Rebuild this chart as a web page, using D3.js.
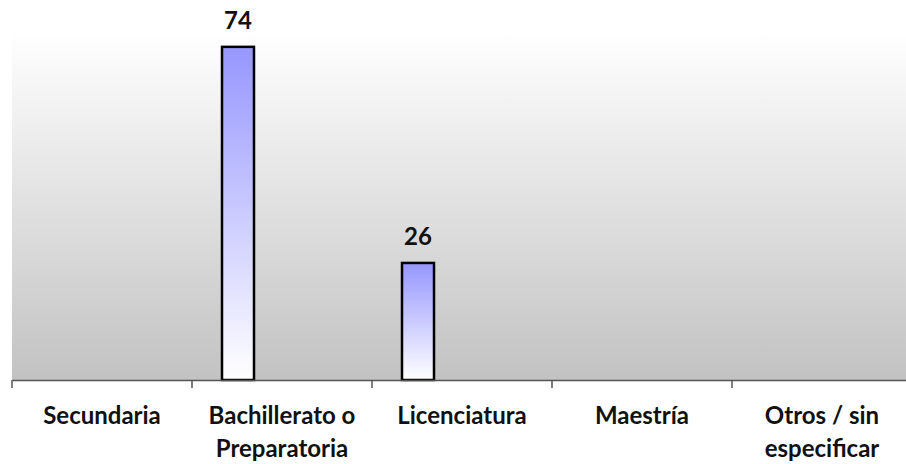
<!DOCTYPE html>
<html><head><meta charset="utf-8">
<script src="https://cdn.jsdelivr.net/npm/d3@7"></script>
<style>body{margin:0;background:#fff}svg{display:block}</style>
</head><body>
<script>
const categories = ["Secundaria", "Bachillerato o Preparatoria", "Licenciatura", "Maestría", "Otros / sin especificar"];
const labelLines = [["Secundaria"], ["Bachillerato o", "Preparatoria"], ["Licenciatura"], ["Maestría"], ["Otros / sin", "especificar"]];
const values = [0, 74, 26, 0, 0];
const yMax = 77.3;

const W = 906, H = 464;
const m = {left: 12, right: -6, top: 32, bottom: 84};
const svg = d3.select("body").append("svg").attr("width", W).attr("height", H);
const defs = svg.append("defs");
const bg = defs.append("linearGradient").attr("id", "bg").attr("x1", 0).attr("y1", 0).attr("x2", 0).attr("y2", 1);
bg.append("stop").attr("offset", "0%").attr("stop-color", "#ffffff");
bg.append("stop").attr("offset", "100%").attr("stop-color", "#c2c2c2");
const bar = defs.append("linearGradient").attr("id", "bar").attr("x1", 0).attr("y1", 0).attr("x2", 0).attr("y2", 1);
bar.append("stop").attr("offset", "0%").attr("stop-color", "#9696ff");
bar.append("stop").attr("offset", "100%").attr("stop-color", "#ffffff");

const x = d3.scaleBand().domain(categories).range([m.left, W - m.right]).padding(0);
const y = d3.scaleLinear().domain([0, yMax]).range([H - m.bottom, m.top]);
const bw = x.bandwidth();
const barOff = bw * 30 / 180, barW = bw * 32 / 180;
const font = "Lato, 'Open Sans', sans-serif";

svg.append("rect").attr("x", m.left).attr("y", m.top).attr("width", W - m.left - m.right).attr("height", y(0) - m.top).attr("fill", "url(#bg)");

const data = categories.map((c, i) => ({c, v: values[i]}));
svg.selectAll("rect.bar").data(data.filter(d => d.v > 0)).join("rect").attr("class", "bar")
  .attr("x", d => x(d.c) + barOff).attr("width", barW)
  .attr("y", d => y(d.v)).attr("height", d => y(0) - y(d.v))
  .attr("fill", "url(#bar)").attr("stroke", "#000").attr("stroke-width", 2.5);

svg.selectAll("text.val").data(data.filter(d => d.v > 0)).join("text").attr("class", "val")
  .attr("x", d => x(d.c) + barOff + barW / 2).attr("y", d => y(d.v) - 18)
  .attr("text-anchor", "middle").attr("font-family", font).attr("font-weight", "bold")
  .attr("font-size", 24).attr("fill", "#111").text(d => d.v);

const axis = d3.axisBottom(x).tickSize(0).tickFormat("");
const g = svg.append("g").attr("transform", `translate(0,${y(0)})`).call(axis);
g.select(".domain").attr("stroke", "#555").attr("stroke-width", 1.5);
g.selectAll(".tickmark").data(categories).join("line").attr("class", "tickmark")
  .attr("x1", d => x(d)).attr("x2", d => x(d)).attr("y1", 0).attr("y2", 8).attr("stroke", "#555").attr("stroke-width", 1.5);

categories.forEach((c, i) => {
  const t = svg.append("text").attr("text-anchor", "middle").attr("font-family", font)
    .attr("font-weight", "bold").attr("font-size", 24).attr("fill", "#111");
  labelLines[i].forEach((ln, j) => {
    t.append("tspan").attr("x", x(c) + bw / 2).attr("y", y(0) + 44 + j * 33).text(ln);
  });
});
</script>
</body></html>
